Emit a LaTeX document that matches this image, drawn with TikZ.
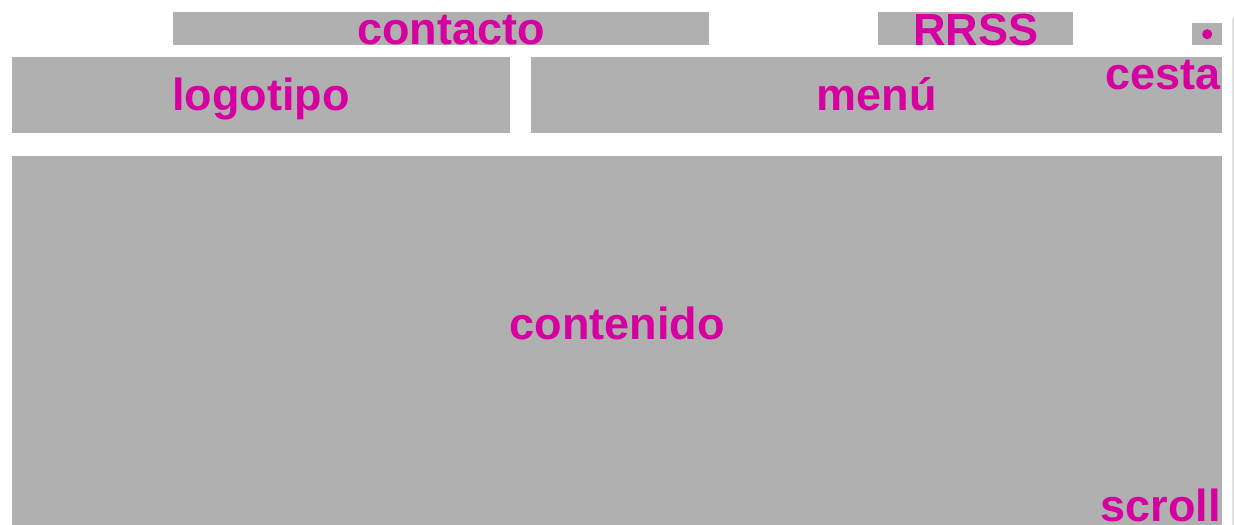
\documentclass[tikz,border=0pt]{standalone}
\usepackage{fontspec}
\setmainfont{Liberation Sans}
\usepackage{xcolor}
\usepackage{tikz}
\usetikzlibrary{positioning}
\definecolor{wfgray}{HTML}{B0B0B0}
\definecolor{wfpink}{RGB}{214,0,160}
\definecolor{wfline}{HTML}{E2E2E2}

\begin{document}
\begin{tikzpicture}[
  x=1pt, y=-1pt,
  blk/.style={fill=wfgray, draw=none, inner sep=0pt, anchor=north west},
  lbl/.style={text=wfpink, inner sep=0pt, font=\bfseries\fontsize{45}{45}\selectfont},
  edge/.style={wfline, line width=1.5pt}
]
  \useasboundingbox (0,0) rectangle (1235,525);

  % top strip
  \node[blk, minimum width=536pt, minimum height=33pt] (contacto) at (173,12) {};
  \node[blk, minimum width=195pt, minimum height=33pt] (rrss) at (878,12) {};
  \node[blk, minimum width=30pt, minimum height=22pt] (cesta) at (1192,23) {};
  \node[circle, fill=wfpink, inner sep=0pt, minimum size=10pt] (dot) at (cesta.center) {};

  % header
  \node[blk, minimum width=498pt, minimum height=76pt] (logo) at (12,57) {};
  \node[blk, minimum width=691pt, minimum height=76pt] (menu) at (531,57) {};

  % body
  \node[blk, minimum width=1210pt, minimum height=369pt] (cont) at (12,156) {};

  % scrollbar edge
  \coordinate (bartop) at (1233,18);
  \coordinate (barbot) at (1233,525);
  \draw[edge] (bartop) -- (barbot);

  % labels
  \node[lbl, anchor=base] (contactotxt) at (451,44) {contacto};
  \node[lbl, anchor=base] (rrsstxt) at (rrss.center |- 0,45) {RRSS};
  \node[lbl, anchor=base] (logotxt) at (logo.center |- 0,110) {logotipo};
  \node[lbl, anchor=base] (menutxt) at (menu.center |- 0,110) {menú};
  \node[lbl, anchor=base east] (cestatxt) at (1221,89) {cesta};
  \node[lbl, anchor=base] (conttxt) at (cont.center |- 0,339) {contenido};
  \node[lbl, anchor=base east] (scrolltxt) at (1221,521) {scroll};
\end{tikzpicture}
\end{document}
